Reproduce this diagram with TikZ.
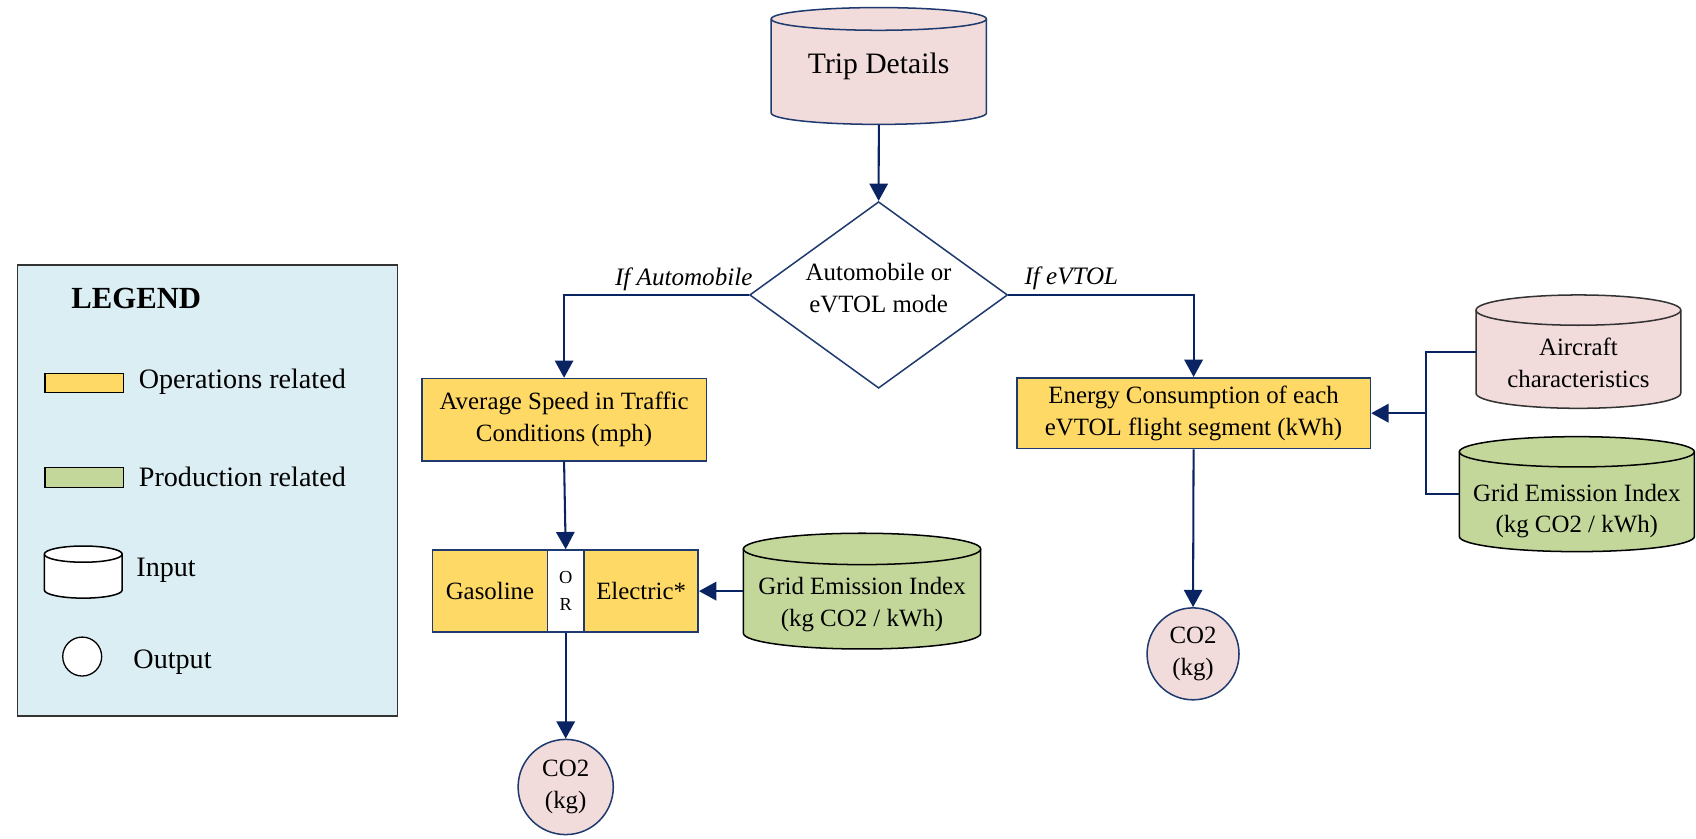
\documentclass[tikz,border=0pt]{standalone}
\usepackage{fontspec}
\setmainfont{Liberation Serif}
\usetikzlibrary{arrows.meta,shapes.geometric}

\definecolor{navy}{HTML}{1F3A6E}
\definecolor{linenavy}{HTML}{0A2463}
\definecolor{opyellow}{HTML}{FFD966}
\definecolor{prodgreen}{HTML}{C4D79B}
\definecolor{inpink}{HTML}{F2DCDB}
\definecolor{legendblue}{HTML}{DAEEF3}

\newcommand\bxfont{\fontsize{11.5pt}{14.7pt}\selectfont}
\newcommand\lgfont{\fontsize{13pt}{15pt}\selectfont}
\newcommand\tripfont{\fontsize{13.7pt}{16pt}\selectfont}
\newcommand\orfont{\fontsize{8.5pt}{12.5pt}\selectfont}

% cylinder: name, left, right, top, bottom, ellipse half-height, fill, edge
\newcommand\drum[8]{%
  \pgfmathsetmacro\drumrx{(#3-#2)/4}%
  \pgfmathsetmacro\drumry{#6/2}%
  \pgfmathsetmacro\drumw{(#3-#2)/2}%
  \pgfmathsetmacro\drumh{(#5-#4)/2}%
  \filldraw[fill=#7, draw=#8, line width=0.7pt] (#2,#4+#6) -- (#2,#5-#6)
     arc[start angle=180, end angle=360, x radius=\drumrx pt, y radius=\drumry pt]
     -- (#3,#4+#6)
     arc[start angle=0, end angle=180, x radius=\drumrx pt, y radius=\drumry pt] -- cycle;
  \draw[draw=#8, line width=0.7pt] (#2,#4+#6)
     arc[start angle=180, end angle=360, x radius=\drumrx pt, y radius=\drumry pt];
  \node[inner sep=0pt, minimum width=\drumw pt, minimum height=\drumh pt] (#1)
     at ({(#2+#3)/2},{(#4+#5)/2}) {};
}

\tikzset{
  navyedge/.style = {draw=navy, line width=0.7pt},
  conn/.style = {draw=linenavy, line width=0.95pt},
  arr/.style = {conn, -{Triangle[length=8pt,width=8.5pt]}},
  opbox/.style = {rectangle, fill=opyellow, navyedge, inner sep=0pt, align=center, font=\bxfont},
  outnode/.style = {circle, fill=inpink, navyedge, inner sep=0pt, align=center, font=\bxfont},
  txt/.style = {inner sep=0pt, align=center, font=\bxfont},
  lgtxt/.style = {inner sep=0pt, anchor=west, font=\lgfont},
  branch/.style = {inner sep=0pt, font=\fontsize{11.6pt}{14pt}\selectfont\itshape},
  lgswatch/.style = {rectangle, draw=black, line width=0.6pt, inner sep=0pt,
                     minimum width=36.2pt, minimum height=9pt},
}

\begin{document}
\begin{tikzpicture}[x=0.5pt,y=-0.5pt]
\useasboundingbox (0,0) rectangle (1568,775);

% ---------- legend ----------
\node[rectangle, fill=legendblue, draw=black!80, line width=0.6pt, inner sep=0pt,
      minimum width=175.7pt, minimum height=208.5pt] (legend) at (191.7,453.5) {};
\node[inner sep=0pt, font=\bfseries\fontsize{14.2pt}{16pt}\selectfont] (lgTitle) at (126,276) {LEGEND};
\node[lgswatch, fill=opyellow] (lgOp) at (77.8,354) {};
\node[lgtxt] (lgOpT) at (128,353) {Operations related};
\node[lgswatch, fill=prodgreen] (lgProd) at (77.8,441.5) {};
\node[lgtxt] (lgProdT) at (128,440.7) {Production related};
\drum{lgIn}{41}{113}{504.8}{553}{7.5}{white}{black}
\node[lgtxt] (lgInT) at (125.7,527) {Input};
\node[circle, draw=black, fill=white, line width=0.6pt, minimum size=18pt, inner sep=0pt] (lgOut) at (76,607) {};
\node[lgtxt] (lgOutT) at (123,611.8) {Output};

% ---------- trip input and mode decision ----------
\drum{trip}{713}{912}{7}{115}{10.5}{inpink}{navy}
\node[inner sep=0pt, font=\tripfont] (tripT) at (812.3,61.5) {Trip Details};

\node[diamond, navyedge, fill=white, minimum width=119.25pt, minimum height=86.25pt,
      inner sep=0pt] (dia) at (812.3,272.7) {};
\node[txt] (diaT) at (812.3,266) {Automobile or\\eVTOL mode};

\node[branch, anchor=base east] (lblAuto) at (696,263.5) {If Automobile};
\node[branch, anchor=base west] (lblEv) at (946.8,262.9) {If eVTOL};

% ---------- automobile branch ----------
\node[opbox, minimum width=131.5pt, minimum height=38pt] (avg) at (521.5,388)
  {Average Speed in Traffic\\Conditions (mph)};

\node[opbox, minimum width=53pt, minimum height=38pt] (gas) at (453,546.5) {Gasoline};
\node[opbox, minimum width=52.75pt, minimum height=38pt] (elec) at (592.75,546.5) {Electric*};
\node[rectangle, fill=white, navyedge, minimum width=17pt, minimum height=38pt, inner sep=0pt,
      align=center, font=\orfont] (orbox) at (523,546.5) {O\\R};

\drum{gridL}{687.3}{906.7}{493}{600}{14.5}{prodgreen}{black}
\node[txt] (gridLT) at (797,559.2) {Grid Emission Index\\(kg CO2 / kWh)};

\node[outnode, minimum size=44pt] (co2L) at (523,727.6) {CO2\\(kg)};

% ---------- eVTOL branch ----------
\node[opbox, minimum width=163.5pt, minimum height=32.75pt] (energy) at (1103.5,382)
  {Energy Consumption of each\\eVTOL flight segment (kWh)};

\drum{air}{1364.6}{1553.9}{272.7}{377.5}{14}{inpink}{black!80}
\node[txt] (airT) at (1459.3,335.6) {Aircraft\\characteristics};

\drum{gridR}{1349.2}{1566.5}{403.7}{510}{14}{prodgreen}{black}
\node[txt] (gridRT) at (1457.8,472.5) {Grid Emission Index\\(kg CO2 / kWh)};

\node[outnode, minimum size=42.5pt] (co2R) at (1103,604.5) {CO2\\(kg)};

\coordinate (jn) at (1318,382);

% ---------- connectors ----------
\draw[arr] (trip.south) -- (dia.north);
\draw[arr] (dia.west) -| (avg.north);
\draw[arr] (dia.east) -| (energy.north);
\draw[arr] (avg.south) -- (orbox.north);
\draw[arr] (orbox.south) -- (co2L.north);
\draw[arr] (gridL.west) -- (elec.east);
\draw[arr] (energy.south) -- (co2R.north);
\draw[conn] (air.west) -| (jn);
\draw[conn] (gridR.west) -| (jn);
\draw[arr] (jn) -- (energy.east);
\end{tikzpicture}
\end{document}
